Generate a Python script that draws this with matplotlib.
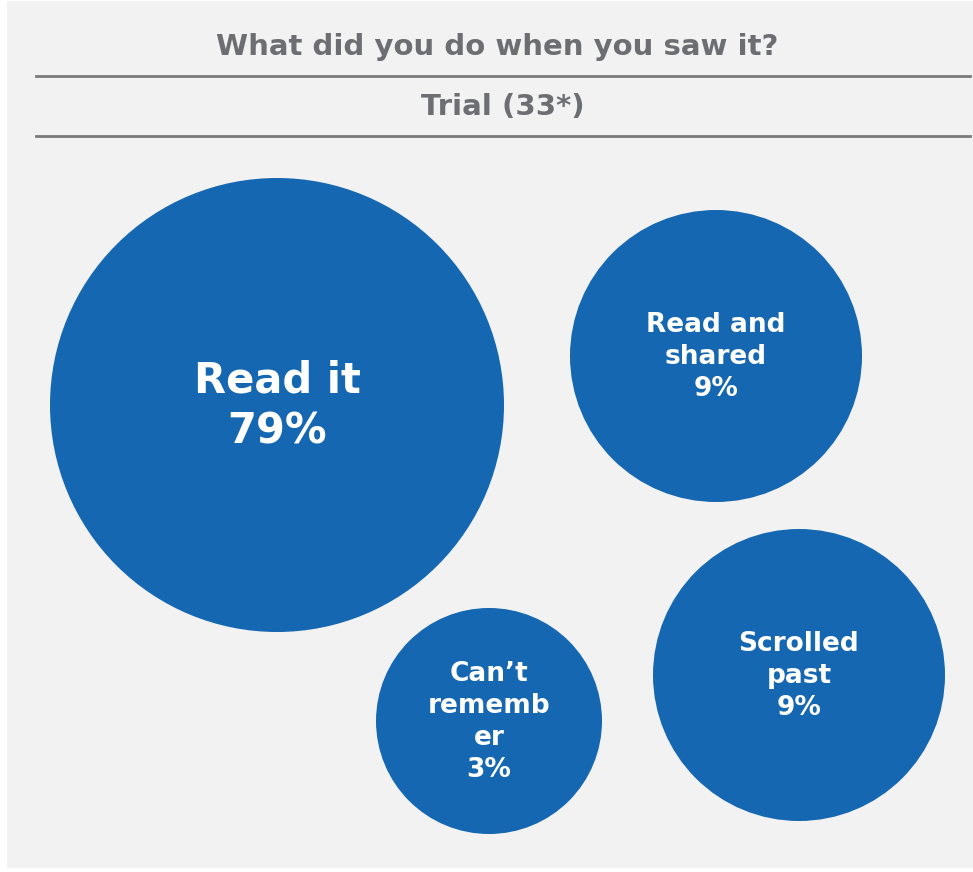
import matplotlib
matplotlib.use("Agg")
import matplotlib.pyplot as plt
from matplotlib.patches import Circle, Rectangle

plt.rcParams['font.family'] = ['DejaVu Sans']

# Données du graphique
title = "What did you do when you saw it?"
subtitle = "Trial (33*)"
labels = ["Read it", "Read and\nshared", "Scrolled\npast", "Can\u2019t\nrememb\ner"]
values = [79, 9, 9, 3]

# Mise en page des bulles (centre x, centre y, rayon) en pixels
bubble_x = [277, 716, 799, 489]
bubble_y = [405, 356, 675, 721]
bubble_r = [227, 146, 146, 113]
font_sizes = [30, 19, 19, 19]

blue = "#1467b0"
grey_text = "#6d6e71"
grey_line = "#7a7a7c"
bg = "#f2f2f2"

W, H = 973, 872
fig = plt.figure(figsize=(W / 100, H / 100), dpi=100)
fig.patch.set_facecolor("white")
ax = fig.add_axes([0, 0, 1, 1])
ax.set_xlim(0, W)
ax.set_ylim(H, 0)
ax.axis("off")

# Fond gris
ax.add_patch(Rectangle((7, 1), W - 7, 867, facecolor=bg, edgecolor="none"))

# Titre et sous-titre
ax.text(497, 47, title, ha="center", va="center", fontsize=21,
        fontweight="bold", color=grey_text)
ax.plot([36, 970], [76, 76], color=grey_line, lw=2)
ax.text(503, 107, subtitle, ha="center", va="center", fontsize=21,
        fontweight="bold", color=grey_text)
ax.plot([36, 970], [136, 136], color=grey_line, lw=2)

# Bulles
for lab, v, x, y, r, fs in zip(labels, values, bubble_x, bubble_y, bubble_r, font_sizes):
    ax.add_patch(Circle((x, y), r, facecolor=blue, edgecolor="none"))
    ax.text(x, y + 1, f"{lab}\n{v}%", ha="center", va="center", fontsize=fs,
            fontweight="bold", color="white", linespacing=1.3)

fig.savefig("out.png", dpi=100, facecolor=fig.get_facecolor())
